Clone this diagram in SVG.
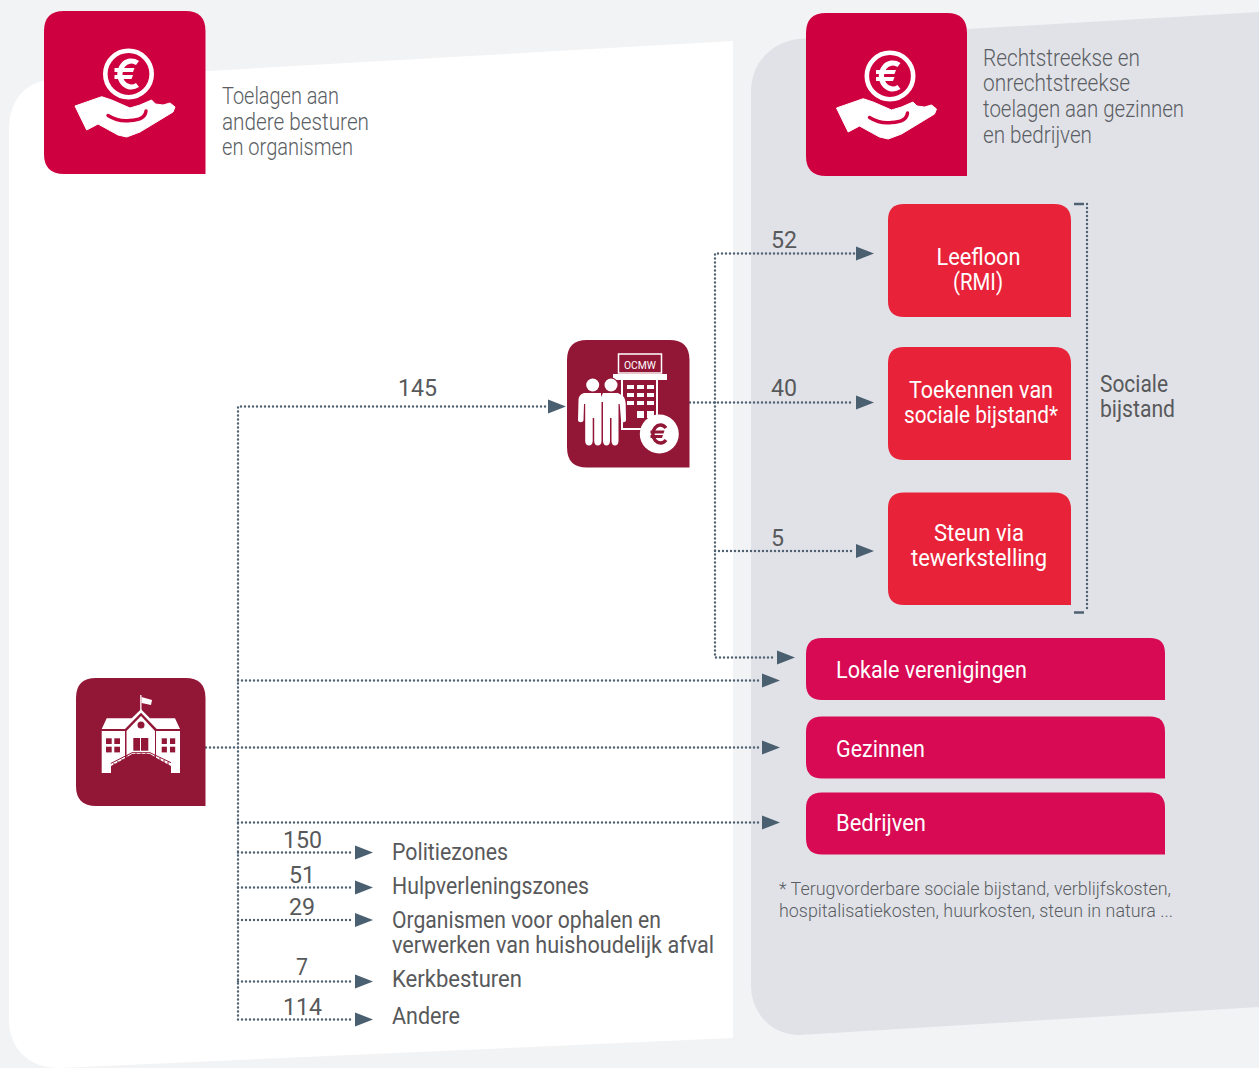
<svg xmlns="http://www.w3.org/2000/svg" width="1259" height="1068" viewBox="0 0 1259 1068">
<style>
text{font-family:"Roboto","Liberation Sans",sans-serif;}
.h{font-size:23px;font-weight:300;fill:#5a5e63;}
.b{font-size:23px;font-weight:400;fill:#58595b;}
.w{font-size:23px;font-weight:400;fill:#fff;}
.n{font-size:24px;font-weight:400;fill:#58595b;}
.f{font-size:18px;font-weight:300;fill:#5a5e63;}
.c{fill:none;stroke:#4f6272;stroke-width:2.4;stroke-dasharray:0 4;stroke-linecap:round;}
.a{fill:#4a5f70;}
.ic{fill:#fff;}
</style>
<defs>
<g id="hand">
<circle cx="0" cy="0" r="23.200" fill="none" stroke="#fff" stroke-width="4.600"/>
<path d="M9 -11A11.500 13 0 1 0 9 11" fill="none" stroke="#fff" stroke-width="5.200"/>
<path d="M-14 -6H6L4.500 -2H-14ZM-14 1H4.500L3 5H-14Z" class="ic"/>
<path d="M-53.500 32L-26.800 22.700L-16.800 26L1.500 34L11.500 31L23 26L27 30L34.500 31L41.500 29L46.500 33L44.500 38L11.500 58L-1.800 63L-10.500 61L-30.500 50L-41.800 56Z" class="ic" stroke="#fff" stroke-width="1" stroke-linejoin="round"/>
<path d="M-20.500 41.500Q-10 48 1.500 46.500Q16.500 46 17.500 37" fill="none" stroke="#cf0040" stroke-width="3.400" stroke-linecap="round"/>
</g>
<g id="arrow"><path d="M-18 -7L0 0L-18 7Z" class="a"/></g>
</defs>
<rect width="1259" height="1068" fill="#f2f3f5"/>
<path id="panel-left" d="M9 130C9 100 25 83 48 80L733 41V1038L60 1068C25 1068 9 1045 9 1020Z" fill="#fff"/>
<path id="panel-right" d="M751 92C751 65 768 44 797 39L1259 12V1007L800 1035C770 1035 751 1012 751 985Z" fill="#e1e2e8"/>

<g id="connectors">
<path class="c" d="M545 406.500H238V1019"/>
<path class="c" d="M238 680.500H760"/>
<path class="c" d="M206 747.500H760"/>
<path class="c" d="M238 822.500H760"/>
<path class="c" d="M238 852.500H353"/>
<path class="c" d="M238 887.500H353"/>
<path class="c" d="M238 920H353"/>
<path class="c" d="M238 981.500H353"/>
<path class="c" d="M238 1019.500H353"/>
<path class="c" d="M690 402.500H854"/>
<path class="c" d="M854 253.500H715V657.500H774"/>
<path class="c" d="M715 551H854"/>
<path class="c" d="M1087 204V612"/>
<path d="M1074 204H1084M1074 612.500H1084" stroke="#4f6272" stroke-width="2.500" fill="none"/>
<use href="#arrow" x="566" y="406.500"/>
<use href="#arrow" x="874" y="253.500"/>
<use href="#arrow" x="874" y="402.500"/>
<use href="#arrow" x="874" y="551"/>
<use href="#arrow" x="795" y="657.500"/>
<use href="#arrow" x="780" y="680.500"/>
<use href="#arrow" x="780" y="747.500"/>
<use href="#arrow" x="780" y="822.500"/>
<use href="#arrow" x="373" y="852.500"/>
<use href="#arrow" x="373" y="887.500"/>
<use href="#arrow" x="373" y="920"/>
<use href="#arrow" x="373" y="981.500"/>
<use href="#arrow" x="373" y="1019.500"/>
</g>

<g id="node-toelagen-andere">
<path d="M64 11H185.500Q205.500 11 205.500 31V174H64Q44 174 44 154V31Q44 11 64 11Z" fill="#cf0040"/>
<use href="#hand" x="128.500" y="74"/>
<text class="h" x="222" y="104" textLength="117" lengthAdjust="spacingAndGlyphs">Toelagen aan</text>
<text class="h" x="222" y="130" textLength="147" lengthAdjust="spacingAndGlyphs">andere besturen</text>
<text class="h" x="222" y="155" textLength="131" lengthAdjust="spacingAndGlyphs">en organismen</text>
</g>
<g id="node-toelagen-gezinnen">
<path d="M826 13H947Q967 13 967 33V176H826Q806 176 806 156V33Q806 13 826 13Z" fill="#cf0040"/>
<use href="#hand" x="890" y="76"/>
<text class="h" x="983" y="66" textLength="157" lengthAdjust="spacingAndGlyphs">Rechtstreekse en</text>
<text class="h" x="983" y="91" textLength="147" lengthAdjust="spacingAndGlyphs">onrechtstreekse</text>
<text class="h" x="983" y="117" textLength="201" lengthAdjust="spacingAndGlyphs">toelagen aan gezinnen</text>
<text class="h" x="983" y="143" textLength="109" lengthAdjust="spacingAndGlyphs">en bedrijven</text>
</g>

<g id="node-ocmw">
<path d="M587 340H669.500Q689.500 340 689.500 360V467.500H587Q567 467.500 567 447.500V360Q567 340 587 340Z" fill="#921737"/>
<rect x="618.500" y="354" width="43" height="19" fill="none" stroke="#fff" stroke-width="1.500"/>
<text x="640" y="369" text-anchor="middle" font-size="10.500" fill="#fff" textLength="32" lengthAdjust="spacingAndGlyphs">OCMW</text>
<rect x="613" y="374" width="54" height="6" class="ic"/>
<path d="M621 380H623V428H651V430H621ZM656 380H658V425H656Z" class="ic"/>
<g class="ic">
<rect x="627" y="385" width="7" height="4"/><rect x="637" y="385" width="7" height="4"/><rect x="647" y="385" width="7" height="4"/>
<rect x="627" y="393" width="7" height="4"/><rect x="637" y="393" width="7" height="4"/><rect x="647" y="393" width="7" height="4"/>
<rect x="627" y="401" width="7" height="4"/><rect x="637" y="401" width="7" height="4"/><rect x="647" y="401" width="7" height="4"/>
<rect x="637" y="411" width="7" height="7"/><rect x="647" y="411" width="7" height="7"/>
</g>
<g id="people" class="ic">
<circle cx="611" cy="385" r="7.500" style="fill:#921737"/>
<circle cx="592.700" cy="385" r="6.500"/>
<circle cx="611" cy="385" r="6.500"/>
<path d="M584 393H601V397L603 393H618L623 396C625 398 625.500 401 625.700 404L626 420C626 423 621 423 621 420L619.700 404V404H618.500V441C618.500 447 611.500 447 611.500 441V418H610V441C610 447 603 447 603 441V402H601.500V441C601.500 447 594.200 447 594.200 441V418H592.700V441C592.700 447 585.200 447 585.200 441V404H584L583.500 420C583.500 423 578 423 578 420L578.500 400C578.700 396 581 394 584 393Z"/>
</g>
<circle cx="659.300" cy="434" r="19.500" class="ic"/>
<path d="M666 428A7.500 9 0 1 0 666 440" fill="none" stroke="#921737" stroke-width="3.400"/>
<path d="M650.500 430.500H664.500L663.500 433.500H650.500ZM650.500 435H663L662 438H650.500Z" fill="#921737"/>
</g>

<g id="node-school">
<path d="M96 678H185.500Q205.500 678 205.500 698V806H96Q76 806 76 786V698Q76 678 96 678Z" fill="#921737"/>
<rect x="140.200" y="695" width="1.300" height="16" class="ic"/>
<path d="M141.500 697L152 700L151 705L141.500 703Z" class="ic"/>
<path d="M101.700 729L106.700 718.300H131.700L141 709.300L150 718.300H175L180 729H156.700L141 712.700L125 729Z" class="ic"/>
<path d="M101.700 731H125V773H101.700ZM156 731H180V773H156Z" class="ic"/>
<path d="M126.500 731L141 716L155 731V773H126.500Z" class="ic"/>
<path d="M111 773V766L122 760L132 754H150L160 760L171 766V773Z" fill="#921737"/>
<path d="M110.700 763.500L132 752.700H150L171 762.700" fill="none" stroke="#921737" stroke-width="1"/>
<path d="M114 763V770M118 761V768M122 759V765M127 755V760M136 753V758M141 753V758M146 753V758M155 755V760M160 758V765M164 760V768M168 762V770" fill="none" stroke="#921737" stroke-width="1"/>
<g fill="#921737">
<rect x="106" y="738.300" width="5.700" height="5.700"/><rect x="114.300" y="738.300" width="5.700" height="5.700"/>
<rect x="106" y="746.700" width="5.700" height="5.700"/><rect x="114.300" y="746.700" width="5.700" height="5.700"/>
<rect x="161.700" y="738.300" width="5.200" height="5.700"/><rect x="170" y="738.300" width="5.200" height="5.700"/>
<rect x="161.700" y="746.700" width="5.200" height="5.700"/><rect x="170" y="746.700" width="5.200" height="5.700"/>
<rect x="133.300" y="738" width="6.700" height="12.700"/><rect x="141" y="738" width="7.300" height="12.700"/>
<circle cx="141" cy="725" r="3.500"/>
</g>
</g>

<g id="node-leefloon">
<path d="M904 204H1054Q1071 204 1071 221V317H904Q888 317 888 301V220Q888 204 904 204Z" fill="#e82339"/>
<text class="w" x="978.500" y="265" text-anchor="middle" textLength="84" lengthAdjust="spacingAndGlyphs">Leefloon</text>
<text class="w" x="978" y="290" text-anchor="middle" textLength="50" lengthAdjust="spacingAndGlyphs">(RMI)</text>
</g>
<g id="node-toekennen">
<path d="M904 347H1054Q1071 347 1071 364V460H904Q888 460 888 444V363Q888 347 904 347Z" fill="#e82339"/>
<text class="w" x="981" y="398" text-anchor="middle" textLength="144" lengthAdjust="spacingAndGlyphs">Toekennen van</text>
<text class="w" x="981" y="423" text-anchor="middle" textLength="154" lengthAdjust="spacingAndGlyphs">sociale bijstand*</text>
</g>
<g id="node-steun">
<path d="M904 492.500H1054Q1071 492.500 1071 509.500V605H904Q888 605 888 589V508.500Q888 492.500 904 492.500Z" fill="#e82339"/>
<text class="w" x="979" y="541" text-anchor="middle" textLength="90" lengthAdjust="spacingAndGlyphs">Steun via</text>
<text class="w" x="979" y="566" text-anchor="middle" textLength="136" lengthAdjust="spacingAndGlyphs">tewerkstelling</text>
</g>
<g id="node-lokale">
<path d="M822 638H1150Q1165 638 1165 653V700H822Q806 700 806 684V654Q806 638 822 638Z" fill="#d70a53"/>
<text class="w" x="836" y="678" textLength="191" lengthAdjust="spacingAndGlyphs">Lokale verenigingen</text>
</g>
<g id="node-gezinnen">
<path d="M822 716.500H1150Q1165 716.500 1165 731.500V778.500H822Q806 778.500 806 762.500V732.500Q806 716.500 822 716.500Z" fill="#d70a53"/>
<text class="w" x="836" y="757" textLength="89" lengthAdjust="spacingAndGlyphs">Gezinnen</text>
</g>
<g id="node-bedrijven">
<path d="M822 792.500H1150Q1165 792.500 1165 807.500V854.500H822Q806 854.500 806 838.500V808.500Q806 792.500 822 792.500Z" fill="#d70a53"/>
<text class="w" x="836" y="831" textLength="90" lengthAdjust="spacingAndGlyphs">Bedrijven</text>
</g>

<g id="labels">
<text class="n" x="398" y="396" textLength="39" lengthAdjust="spacingAndGlyphs">145</text>
<text class="n" x="771" y="248" textLength="26" lengthAdjust="spacingAndGlyphs">52</text>
<text class="n" x="771" y="396" textLength="26" lengthAdjust="spacingAndGlyphs">40</text>
<text class="n" x="771" y="546" textLength="13" lengthAdjust="spacingAndGlyphs">5</text>
<text class="n" x="283" y="847.500" textLength="39" lengthAdjust="spacingAndGlyphs">150</text>
<text class="n" x="289" y="883" textLength="26" lengthAdjust="spacingAndGlyphs">51</text>
<text class="n" x="289" y="915" textLength="26" lengthAdjust="spacingAndGlyphs">29</text>
<text class="n" x="296" y="975" textLength="12" lengthAdjust="spacingAndGlyphs">7</text>
<text class="n" x="283" y="1014.500" textLength="39" lengthAdjust="spacingAndGlyphs">114</text>
<text class="b" x="392" y="860" textLength="116" lengthAdjust="spacingAndGlyphs">Politiezones</text>
<text class="b" x="392" y="894" textLength="197" lengthAdjust="spacingAndGlyphs">Hulpverleningszones</text>
<text class="b" x="392" y="928" textLength="269" lengthAdjust="spacingAndGlyphs">Organismen voor ophalen en</text>
<text class="b" x="392" y="953" textLength="322" lengthAdjust="spacingAndGlyphs">verwerken van huishoudelijk afval</text>
<text class="b" x="392" y="987" textLength="130" lengthAdjust="spacingAndGlyphs">Kerkbesturen</text>
<text class="b" x="392" y="1024" textLength="68" lengthAdjust="spacingAndGlyphs">Andere</text>
<text class="b" x="1100" y="392" textLength="68" lengthAdjust="spacingAndGlyphs">Sociale</text>
<text class="b" x="1100" y="417" textLength="75" lengthAdjust="spacingAndGlyphs">bijstand</text>
<text class="f" x="779" y="895" textLength="392" lengthAdjust="spacingAndGlyphs">* Terugvorderbare sociale bijstand, verblijfskosten,</text>
<text class="f" x="779" y="917" textLength="394" lengthAdjust="spacingAndGlyphs">hospitalisatiekosten, huurkosten, steun in natura ...</text>
</g>
</svg>
